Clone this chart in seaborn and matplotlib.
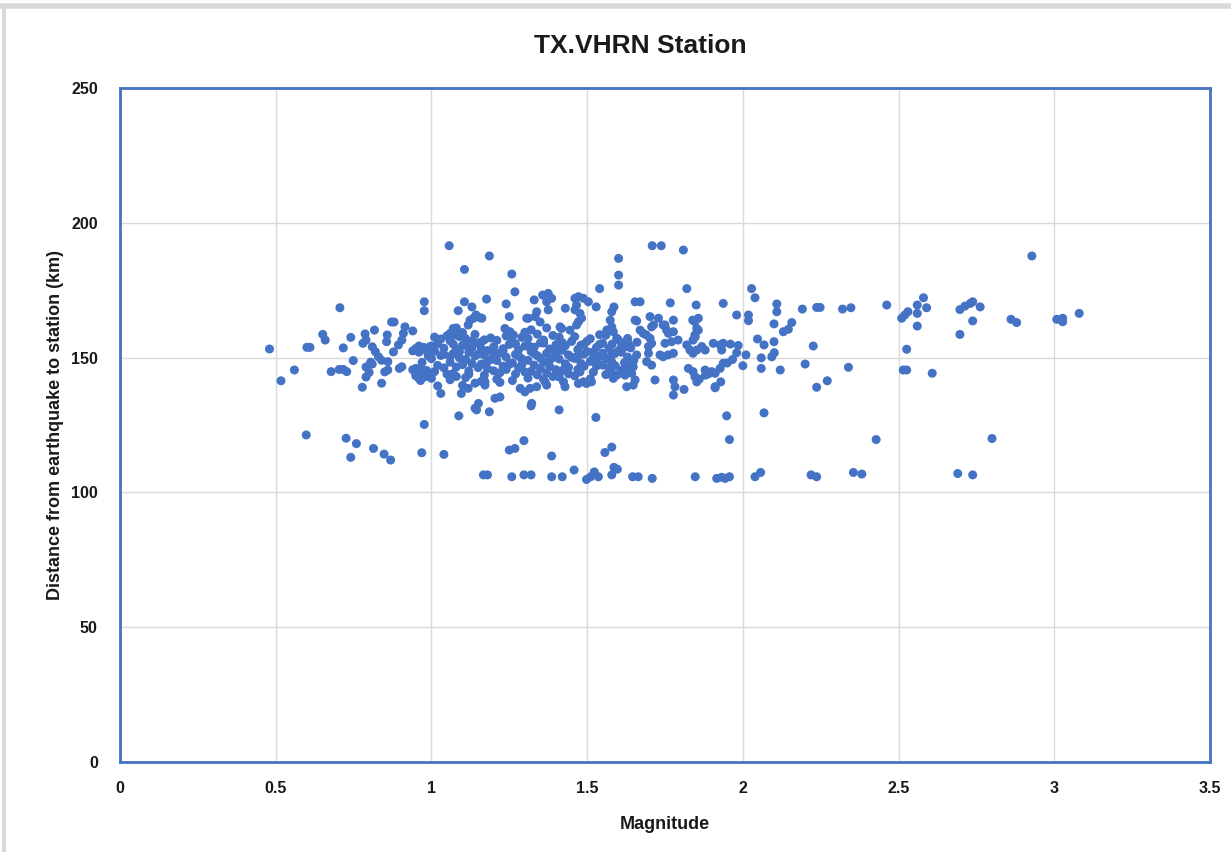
import matplotlib
matplotlib.use("Agg")
import matplotlib.pyplot as plt
from matplotlib.lines import Line2D
import seaborn as sns
import pandas as pd

TITLE = "TX.VHRN Station"
X_LABEL = "Magnitude"
Y_LABEL = "Distance from earthquake to station (km)"
x_ticks = [0, 0.5, 1, 1.5, 2, 2.5, 3, 3.5]
x_tick_labels = ["0", "0.5", "1", "1.5", "2", "2.5", "3", "3.5"]
y_ticks = [0, 50, 100, 150, 200, 250]

# (magnitude, distance km) pairs
low_band = [(0.598,121.3),(0.726,120.1),(0.741,113.0),(0.759,118.1),(0.814,116.3),(0.848,114.2),(0.869,112.0),
    (0.969,114.7),(0.977,125.2),(1.04,114.1),(1.167,106.5),(1.18,106.5),(1.258,105.8),(1.297,106.5),(1.32,106.5),
    (1.386,105.8),(1.42,105.8),(1.458,108.3),(1.498,104.8),(1.511,105.8),(1.523,107.6),(1.536,105.8),(1.579,106.5),
    (1.586,109.3),(1.597,108.6),(1.646,105.8),(1.664,105.8),(1.709,105.2),(1.847,105.8),(1.916,105.2),(1.932,105.6),
    (1.943,105.2),(1.957,105.8),(2.039,105.8),(2.057,107.4),(2.219,106.5),(2.237,105.8),(2.355,107.4),(2.382,106.8),
    (2.69,107.0),(2.738,106.5),(1.25,115.7),(1.268,116.3),(1.297,119.2),(1.386,113.5),(1.557,114.8),(1.579,116.8),
    (1.957,119.6),(2.428,119.6),(2.8,120.0)]

mid_gap = [(1.03,136.7),(1.088,128.4),(1.096,136.7),(1.14,131.2),(1.145,130.6),(1.186,129.9),(1.204,134.9),
    (1.22,135.4),(1.32,132.1),(1.41,130.6),(1.528,127.8),(1.777,136.1),(1.811,138.2),(1.948,128.4),(2.068,129.5),
    (2.237,139.0),(2.271,141.4),(1.911,138.8),(1.929,141.0),(0.778,139.0),(0.84,140.5),(1.118,138.6),(1.151,133.0),
    (1.285,138.6),(1.3,137.3),(1.317,138.6),(1.338,139.2),(1.322,133.0),(1.429,139.2),(1.627,139.2),(1.648,139.8),
    (1.782,139.2),(1.911,139.2)]

left_cluster = [(0.48,153.2),(0.517,141.4),(0.56,145.4),(0.60,153.8),(0.61,153.8),(0.651,158.6),(0.659,156.5),
    (0.678,144.8),(0.706,168.5),(0.704,145.6),(0.717,145.6),(0.728,144.8),(0.717,153.6),(0.741,157.5),(0.749,148.9),
    (0.787,158.8),(0.78,155.3),(0.79,156.5),(0.817,160.2),(0.79,146.5),(0.80,144.5),(0.81,147.6),(0.79,142.8),
    (0.805,148.3),(0.81,154.0),(0.82,152.2),(0.83,150.3),(0.84,149.0),(0.86,148.5),(0.85,144.7),(0.86,145.4),
    (0.872,163.2),(0.88,163.2),(0.858,158.4),(0.856,155.9),(0.878,152.1),(0.915,161.4),(0.91,159.0),(0.905,156.5),
    (0.894,154.7),(0.94,159.9),(0.905,146.6),(0.897,146.0),(0.94,152.5),(0.95,153.4),(0.96,152.0),(0.975,153.8),
    (0.985,152.4),(0.995,154.0),(0.94,145.5),(0.95,144.0),(0.96,142.3),(0.97,144.5),(0.985,145.2),(0.995,143.6),
    (0.965,141.5),(0.977,170.7),(0.977,167.4)]

dense_core = [
    (1.00,142.3),(1.01,144.8),(1.02,147.1),(1.00,149.6),(1.03,150.8),(1.01,152.4),(1.04,153.5),(1.02,155.2),
    (1.03,156.9),(1.05,158.1),(1.00,154.3),(1.04,146.2),(1.05,143.9),(1.02,139.5),(1.04,151.2),(1.01,157.6),
    (1.06,141.8),(1.07,144.1),(1.08,146.5),(1.06,148.3),(1.09,149.9),(1.07,151.5),(1.08,153.1),(1.10,154.6),
    (1.06,156.2),(1.09,157.8),(1.07,155.0),(1.10,147.4),(1.08,143.0),(1.10,139.7),(1.09,152.2),(1.06,150.4),
    (1.10,159.3),(1.08,161.0),
    (1.11,142.6),(1.12,145.0),(1.13,147.8),(1.11,149.3),(1.14,150.6),(1.12,152.0),(1.13,153.7),(1.15,155.4),
    (1.11,157.0),(1.14,158.6),(1.15,146.3),(1.12,143.8),(1.14,140.5),(1.13,156.2),(1.15,151.3),(1.11,154.5),
    (1.16,141.2),(1.17,143.5),(1.18,145.9),(1.16,147.6),(1.19,149.2),(1.17,150.9),(1.18,152.6),(1.20,154.0),
    (1.16,155.7),(1.19,157.3),(1.20,145.1),(1.18,148.7),(1.17,156.6),(1.20,151.8),(1.16,153.2),
    (1.21,142.0),(1.22,144.4),(1.23,146.8),(1.21,148.9),(1.24,150.2),(1.22,151.7),(1.23,153.3),(1.25,154.9),
    (1.21,156.4),(1.24,158.0),(1.25,147.5),(1.22,140.8),(1.24,145.6),(1.23,152.5),
    (1.26,141.5),(1.27,143.9),(1.28,146.1),(1.26,148.0),(1.29,149.6),(1.27,151.2),(1.28,152.9),(1.30,154.3),
    (1.26,156.0),(1.29,157.5),(1.30,144.7),(1.27,155.1),(1.29,147.3),(1.28,150.5),(1.30,159.4),
    (1.31,142.4),(1.32,144.9),(1.33,147.2),(1.31,149.0),(1.34,150.7),(1.32,152.3),(1.33,153.9),(1.35,155.5),
    (1.31,157.1),(1.34,158.7),(1.35,146.0),(1.32,160.3),(1.34,143.6),(1.33,151.5),(1.35,149.8),(1.31,154.6),
    (1.36,141.9),(1.37,144.3),(1.38,146.6),(1.36,148.4),(1.39,150.0),(1.37,151.6),(1.38,153.2),(1.40,154.8),
    (1.36,156.5),(1.39,158.2),(1.40,145.5),(1.37,161.0),(1.38,149.1),(1.40,152.0),(1.36,155.4),(1.39,143.0),
    (1.41,142.8),(1.42,145.2),(1.43,147.7),(1.41,149.5),(1.44,151.0),(1.42,152.7),(1.43,154.4),(1.45,156.0),
    (1.41,157.6),(1.44,146.4),(1.45,150.1),(1.42,155.6),(1.44,144.0),
    (1.46,143.2),(1.47,145.6),(1.48,147.9),(1.46,149.7),(1.49,151.3),(1.47,153.0),(1.48,154.6),(1.50,156.1),
    (1.46,157.8),(1.49,146.8),(1.50,152.2),(1.47,150.6),(1.49,155.0),
    (1.51,142.1),(1.52,144.6),(1.53,146.9),(1.51,148.6),(1.54,150.4),(1.52,152.1),(1.53,153.8),(1.55,155.3),
    (1.51,157.0),(1.54,158.5),(1.55,147.2),(1.52,150.0),(1.54,154.9),(1.53,149.2),(1.55,151.6),
    (1.56,143.7),(1.57,146.2),(1.58,148.2),(1.56,150.0),(1.59,151.6),(1.57,153.4),(1.58,155.0),(1.60,156.6),
    (1.56,158.3),(1.59,147.0),(1.60,152.5),(1.57,149.4),(1.58,151.0),
    (1.61,145.3),(1.62,148.1),(1.63,150.2),(1.61,152.0),(1.64,153.6),(1.62,155.5),(1.63,157.1),(1.65,149.0),
    (1.64,146.8),(1.61,154.0),
    (0.95,146.0),(0.96,152.8),(0.97,148.2),(0.98,144.1),(0.99,150.6),(0.96,154.3),(0.98,142.9),(0.97,145.5),
    (0.99,153.4),(0.95,143.2),
    (1.365,141.0),(1.37,139.8),(1.424,141.0),(1.472,140.4),(1.488,141.0),(1.498,140.4),(1.514,141.0),(1.477,144.7),
    (1.579,144.2),(1.584,142.3),(1.595,143.5),(1.606,144.2),(1.622,143.5),(1.627,146.6),(1.172,141.0),(1.172,139.8)]

upper_cluster = [(1.057,191.5),(1.106,182.7),(1.106,170.7),(1.13,168.8),(1.086,167.4),(1.186,187.7),(1.258,181.0),
    (1.268,174.4),(1.709,191.5),(1.738,191.5),(1.809,189.9),(1.601,186.8),(1.601,180.6),(1.601,176.9),(1.54,175.6),
    (1.82,175.6),(1.177,171.7),(1.24,169.9),(1.33,171.4),(1.357,173.2),(1.375,173.8),(1.386,172.0),(1.37,170.7),
    (1.375,167.7),(1.461,172.0),(1.472,172.6),(1.488,172.0),(1.504,170.7),(1.466,169.5),(1.461,167.7),(1.529,168.8),
    (1.586,168.8),(1.579,167.0),(1.654,170.7),(1.67,170.7),(1.767,170.3),(1.85,169.5),(1.143,165.8),(1.156,164.8),
    (1.124,163.9),(1.118,162.1),(1.25,165.2),(1.311,164.6),(1.338,167.0),(1.349,163.2),(1.43,168.3),(1.413,161.4),
    (1.445,160.2),(1.574,163.9),(1.579,161.4),(1.563,160.2),(1.654,163.9),(1.702,165.2),(1.729,164.6),(1.707,161.4),
    (1.744,162.1),(1.777,163.9),(1.777,159.6),(1.839,163.9),(1.852,160.8),(1.135,164.6),(1.162,164.6),(1.07,160.8),
    (1.06,159.0),(1.076,158.4),(1.236,160.8),(1.252,159.6),(1.263,158.4),(1.306,164.6),(1.333,165.2),(1.477,166.4),
    (1.482,164.6),(1.472,163.3),(1.466,162.1),(1.418,160.8),(1.584,159.6),(1.595,157.2),(1.75,162.1),(1.755,160.2),
    (1.761,159.0),(1.857,164.6),(1.846,163.3),(1.659,163.6),(1.713,162.1),(1.67,160.2),(1.68,159.0),(1.69,158.4),
    (1.857,160.2),(1.846,158.4)]

right_cluster = [(1.632,155.3),(1.627,154.1),(1.66,155.7),(1.702,157.2),(1.707,155.3),(1.697,154.1),(1.75,155.3),
    (1.771,155.9),(1.792,156.5),(1.82,154.7),(1.83,152.8),(1.84,151.6),(1.852,152.8),(1.868,154.1),(1.879,152.8),
    (1.905,155.3),(1.927,154.7),(1.937,155.3),(1.932,152.8),(1.659,151.0),(1.697,151.6),(1.691,148.5),(1.707,147.2),
    (1.734,151.0),(1.744,150.3),(1.76,151.0),(1.777,151.6),(1.622,147.9),(1.632,146.0),(1.648,146.6),(1.643,144.2),
    (1.825,146.0),(1.84,144.8),(1.846,142.9),(1.852,141.0),(1.879,145.4),(1.9,144.8),(1.911,144.2),(1.927,146.0),
    (1.937,147.9),(1.654,141.7),(1.718,141.7),(1.777,141.7),(1.95,148.0),(1.84,156.5),(1.937,170.1),(2.028,175.6),
    (2.039,172.2),(2.109,169.9),(2.109,167.0),(2.191,168.0),(2.237,168.6),(2.248,168.6),(2.32,168.0),(2.347,168.5),
    (2.462,169.5),(2.51,164.6),(2.52,165.8),(2.53,167.0),(2.56,169.5),(2.56,166.4),(2.56,161.7),(1.847,157.7),
    (1.98,165.8),(2.018,165.8),(2.018,163.7),(2.1,162.5),(2.13,159.6),(2.146,160.5),(2.157,163.0),(2.047,156.9),
    (2.068,154.7),(2.1,155.9),(2.226,154.3),(2.526,153.1),(1.985,154.5),(1.96,155.0),(1.98,151.8),(2.01,151.0),
    (1.967,149.3),(2.0,147.0),(2.059,149.9),(2.059,146.0),(2.093,150.3),(2.101,151.8),(2.12,145.4),(2.2,147.6),
    (2.339,146.4),(2.515,145.4),(2.526,145.4),(1.88,143.5),(1.89,144.0),(1.86,142.0),(2.58,172.2),(2.59,168.5),
    (2.608,144.2),(2.697,167.8),(2.713,169.1),(2.73,170.1),(2.738,170.7),(2.762,168.8),(2.738,163.6),(2.697,158.6),
    (2.861,164.2),(2.879,163.0),(2.928,187.7),(3.008,164.2),(3.027,164.6),(3.027,163.3),(3.08,166.4)]

groups = [low_band, mid_gap, left_cluster, dense_core, upper_cluster, right_cluster]
rows = [p for g in groups for p in g]
df = pd.DataFrame(rows, columns=["magnitude", "distance"])

sns.set_style("white")
plt.rcParams["font.family"] = ["Liberation Sans", "DejaVu Sans"]
plt.rcParams["font.weight"] = "bold"
plt.rcParams["axes.titleweight"] = "bold"
plt.rcParams["axes.labelweight"] = "bold"

TEXT_COLOR = "#1a1a1a"

fig = plt.figure(figsize=(12.31, 8.52), dpi=100)
ax = fig.add_axes([120/1231, 1-762/852, (1210-120)/1231, (762-88)/852])

sns.scatterplot(data=df, x="magnitude", y="distance", ax=ax, color="#4472C4",
                s=42, edgecolor="none", linewidth=0, zorder=3)

ax.set_xlim(0, 3.5)
ax.set_ylim(0, 250)
ax.set_xticks(x_ticks)
ax.set_xticklabels(x_tick_labels)
ax.set_yticks(y_ticks)
ax.grid(True, color="#d9d9d9", linewidth=1.0, zorder=0)
ax.set_axisbelow(True)
for sp in ax.spines.values():
    sp.set_color("#4472C4")
    sp.set_linewidth(2.0)
ax.tick_params(axis="both", length=0, labelsize=11.5, colors=TEXT_COLOR)
ax.tick_params(axis="x", pad=14)
ax.tick_params(axis="y", pad=16)
for lab in ax.get_xticklabels() + ax.get_yticklabels():
    lab.set_fontweight("bold")

ax.set_xlabel(X_LABEL, fontsize=13, fontweight="bold", labelpad=14, color=TEXT_COLOR)
ax.set_ylabel(Y_LABEL, fontsize=13, fontweight="bold", labelpad=5, color=TEXT_COLOR)
fig.text(640/1231, 1-46/852, TITLE, ha="center", va="center", fontsize=19, fontweight="bold", color=TEXT_COLOR)

# light grey frame of the chart area
fig.add_artist(Line2D([0, 1], [1-6/852, 1-6/852], color="#d9d9d9", linewidth=4, transform=fig.transFigure))
fig.add_artist(Line2D([4/1231, 4/1231], [0, 1-6/852], color="#d9d9d9", linewidth=3, transform=fig.transFigure))

fig.savefig("out.png", dpi=100, facecolor="white")
